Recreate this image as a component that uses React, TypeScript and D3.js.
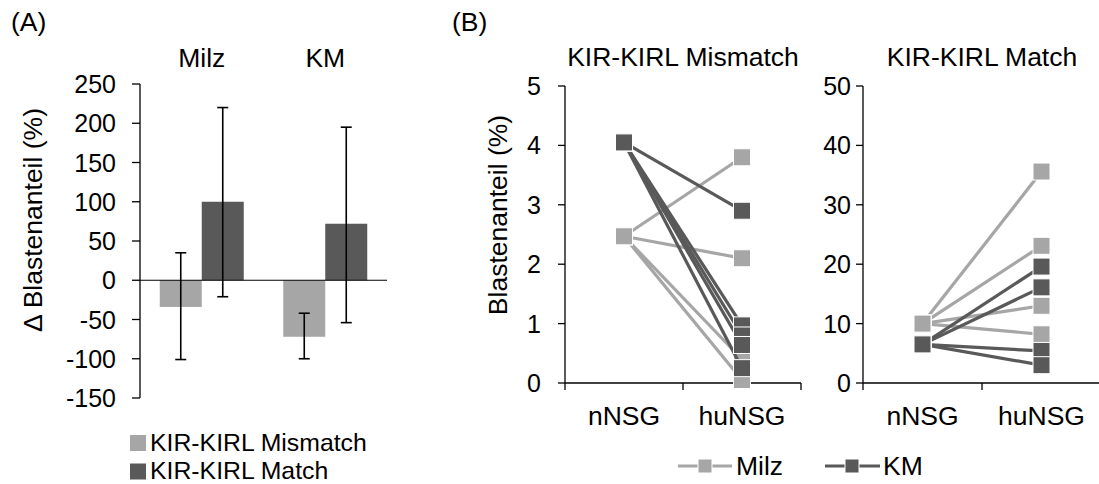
import * as d3 from "d3";

// panel A: mean change with error bars
const barCategories = ["Milz", "KM"];
const barSeries = ["KIR-KIRL Mismatch", "KIR-KIRL Match"];
const mismatchMean = [-34, -72];
const mismatchHigh = [35, -42];
const mismatchLow = [-101, -100];
const matchMean = [100, 72];
const matchHigh = [220, 195];
const matchLow = [-21, -54];
const barTicks = [250, 200, 150, 100, 50, 0, -50, -100, -150];

// panel B: paired values nNSG -> huNSG
const groups = ["nNSG", "huNSG"];
const mismatchMilz = [[2.47, 3.8], [2.47, 2.1], [2.47, 0.4], [2.47, 0.05]];
const mismatchKM = [[4.05, 2.9], [4.05, 0.97], [4.05, 0.8], [4.05, 0.64], [4.05, 0.25]];
const matchMilz = [[10, 35.6], [10, 23.1], [10, 13], [10, 8.2]];
const matchKM = [[6.5, 19.6], [6.5, 16.1], [6.5, 5.4], [6.5, 3.0]];
const mismatchTicks = [0, 1, 2, 3, 4, 5];
const matchTicks = [0, 10, 20, 30, 40, 50];

const LIGHT = "#a6a6a6";
const DARK = "#595959";
const FONT = "'Liberation Sans', Arial, sans-serif";
const FS = 25; // ticks
const FS2 = 26.5; // titles, legend, category labels

const yA = d3.scaleLinear().domain([-150, 250]).range([398, 84]);
const xA = d3.scaleBand().domain(barCategories).range([140, 387]);
const xA1 = d3.scaleBand().domain(barSeries).range([0, 84]);
const offA = (xA.bandwidth() - 84) / 2;

const yL = d3.scaleLinear().domain([0, 5]).range([383, 86]);
const yR = d3.scaleLinear().domain([0, 50]).range([383, 86]);
const xL = d3.scalePoint().domain(groups).range([565, 801]).padding(0.5);
const xR = d3.scalePoint().domain(groups).range([863, 1101]).padding(0.5);

function Pairs({ data, x, y, color }: any) {
  const line = d3.line<number>().x((_, i) => x(groups[i])).y((d) => y(d));
  return (
    <g>
      {data.map((p: number[], i: number) => (
        <path key={"l" + i} d={line(p) || ""} fill="none" stroke={color} strokeWidth={3.2} />
      ))}
      {data.map((p: number[], i: number) =>
        p.map((v, j) => (
          <rect key={"m" + i + j} x={x(groups[j]) - 8.5} y={y(v) - 8.5} width={17} height={17}
            fill={color} stroke="#fff" strokeWidth={1} />
        ))
      )}
    </g>
  );
}

function LinePanel({ x, y, ticks, title, milz, km, x0, x1, labelRight }: any) {
  return (
    <g>
      <text x={(x0 + x1) / 2} y={66} textAnchor="middle" fontSize={FS2}>{title}</text>
      <line x1={x0} x2={x0} y1={y.range()[1]} y2={y.range()[0] + 7} stroke="#000" strokeWidth={1.3} />
      <line x1={x0} x2={x1} y1={y.range()[0]} y2={y.range()[0]} stroke="#000" strokeWidth={1.3} />
      {ticks.map((t: number) => (
        <g key={t}>
          <line x1={x0 - 7} x2={x0} y1={y(t)} y2={y(t)} stroke="#000" strokeWidth={1.3} />
          <text x={labelRight} y={y(t) + 9} textAnchor="end">{t}</text>
        </g>
      ))}
      {[(x0 + x1) / 2, x1].map((tx) => (
        <line key={tx} x1={tx} x2={tx} y1={y.range()[0]} y2={y.range()[0] + 7} stroke="#000" strokeWidth={1.3} />
      ))}
      {groups.map((g) => (
        <text key={g} x={x(g)} y={425} textAnchor="middle" fontSize={FS2}>{g}</text>
      ))}
      <Pairs data={milz} x={x} y={y} color={LIGHT} />
      <Pairs data={km} x={x} y={y} color={DARK} />
    </g>
  );
}

export default function App() {
  const barData = [
    { s: barSeries[0], mean: mismatchMean, hi: mismatchHigh, lo: mismatchLow, color: LIGHT },
    { s: barSeries[1], mean: matchMean, hi: matchHigh, lo: matchLow, color: DARK },
  ];
  return (
    <svg width={1099} height={484} style={{ position: "absolute", left: 0, top: 0, background: "#fff" }}
      fontFamily={FONT} fontSize={FS}>
      <rect width={1099} height={484} fill="#fff" />
      {/* Panel A */}
      <text x={11} y={31} fontSize={FS2}>(A)</text>
      {barCategories.map((c) => (
        <text key={c} x={(xA(c) as number) + xA.bandwidth() / 2} y={67} textAnchor="middle" fontSize={FS2}>{c}</text>
      ))}
      <text transform={`translate(42,220) rotate(-90)`} textAnchor="middle" fontSize={FS2}>Δ Blastenanteil (%)</text>
      {barData.map((b) =>
        barCategories.map((c, i) => {
          const bx = (xA(c) as number) + offA + (xA1(b.s) as number);
          const v = b.mean[i];
          return (
            <rect key={b.s + c} x={bx} width={xA1.bandwidth()} y={Math.min(yA(v), yA(0))}
              height={Math.abs(yA(v) - yA(0))} fill={b.color} />
          );
        })
      )}
      <line x1={140} x2={387} y1={yA(0)} y2={yA(0)} stroke="#000" strokeWidth={1.2} />
      {barData.map((b) =>
        barCategories.map((c, i) => {
          const cx = (xA(c) as number) + offA + (xA1(b.s) as number) + xA1.bandwidth() / 2;
          return (
            <g key={"e" + b.s + c} stroke="#000" strokeWidth={1.6}>
              <line x1={cx} x2={cx} y1={yA(b.hi[i])} y2={yA(b.lo[i])} />
              <line x1={cx - 5.5} x2={cx + 5.5} y1={yA(b.hi[i])} y2={yA(b.hi[i])} />
              <line x1={cx - 5.5} x2={cx + 5.5} y1={yA(b.lo[i])} y2={yA(b.lo[i])} />
            </g>
          );
        })
      )}
      <line x1={140} x2={140} y1={yA(250)} y2={yA(-150)} stroke="#000" strokeWidth={1.3} />
      {barTicks.map((t) => (
        <g key={t}>
          <line x1={132} x2={140} y1={yA(t)} y2={yA(t)} stroke="#000" strokeWidth={1.3} />
          <text x={116} y={yA(t) + 9} textAnchor="end">{t}</text>
        </g>
      ))}
      {barData.map((b, i) => (
        <g key={"lg" + i}>
          <rect x={130} y={435 + i * 28.5} width={16} height={16} fill={b.color} />
          <text x={150} y={451 + i * 28} fontSize={24.8}>{b.s}</text>
        </g>
      ))}

      {/* Panel B */}
      <text x={452} y={31} fontSize={FS2}>(B)</text>
      <text transform={`translate(507,215) rotate(-90)`} textAnchor="middle" fontSize={FS2}>Blastenanteil (%)</text>
      <LinePanel x={xL} y={yL} ticks={mismatchTicks} title="KIR-KIRL Mismatch" milz={mismatchMilz}
        km={mismatchKM} x0={565} x1={801} labelRight={541} />
      <LinePanel x={xR} y={yR} ticks={matchTicks} title="KIR-KIRL Match" milz={matchMilz}
        km={matchKM} x0={863} x1={1101} labelRight={851} />

      {/* Legend B */}
      <line x1={678} x2={732} y1={466} y2={466} stroke={LIGHT} strokeWidth={3.2} />
      <rect x={698} y={459} width={14} height={14} fill={LIGHT} stroke="#fff" strokeWidth={1} />
      <text x={736} y={475} fontSize={FS2}>Milz</text>
      <line x1={825} x2={880} y1={466} y2={466} stroke={DARK} strokeWidth={3.2} />
      <rect x={845} y={459} width={14} height={14} fill={DARK} stroke="#fff" strokeWidth={1} />
      <text x={883} y={475} fontSize={FS2}>KM</text>
    </svg>
  );
}
